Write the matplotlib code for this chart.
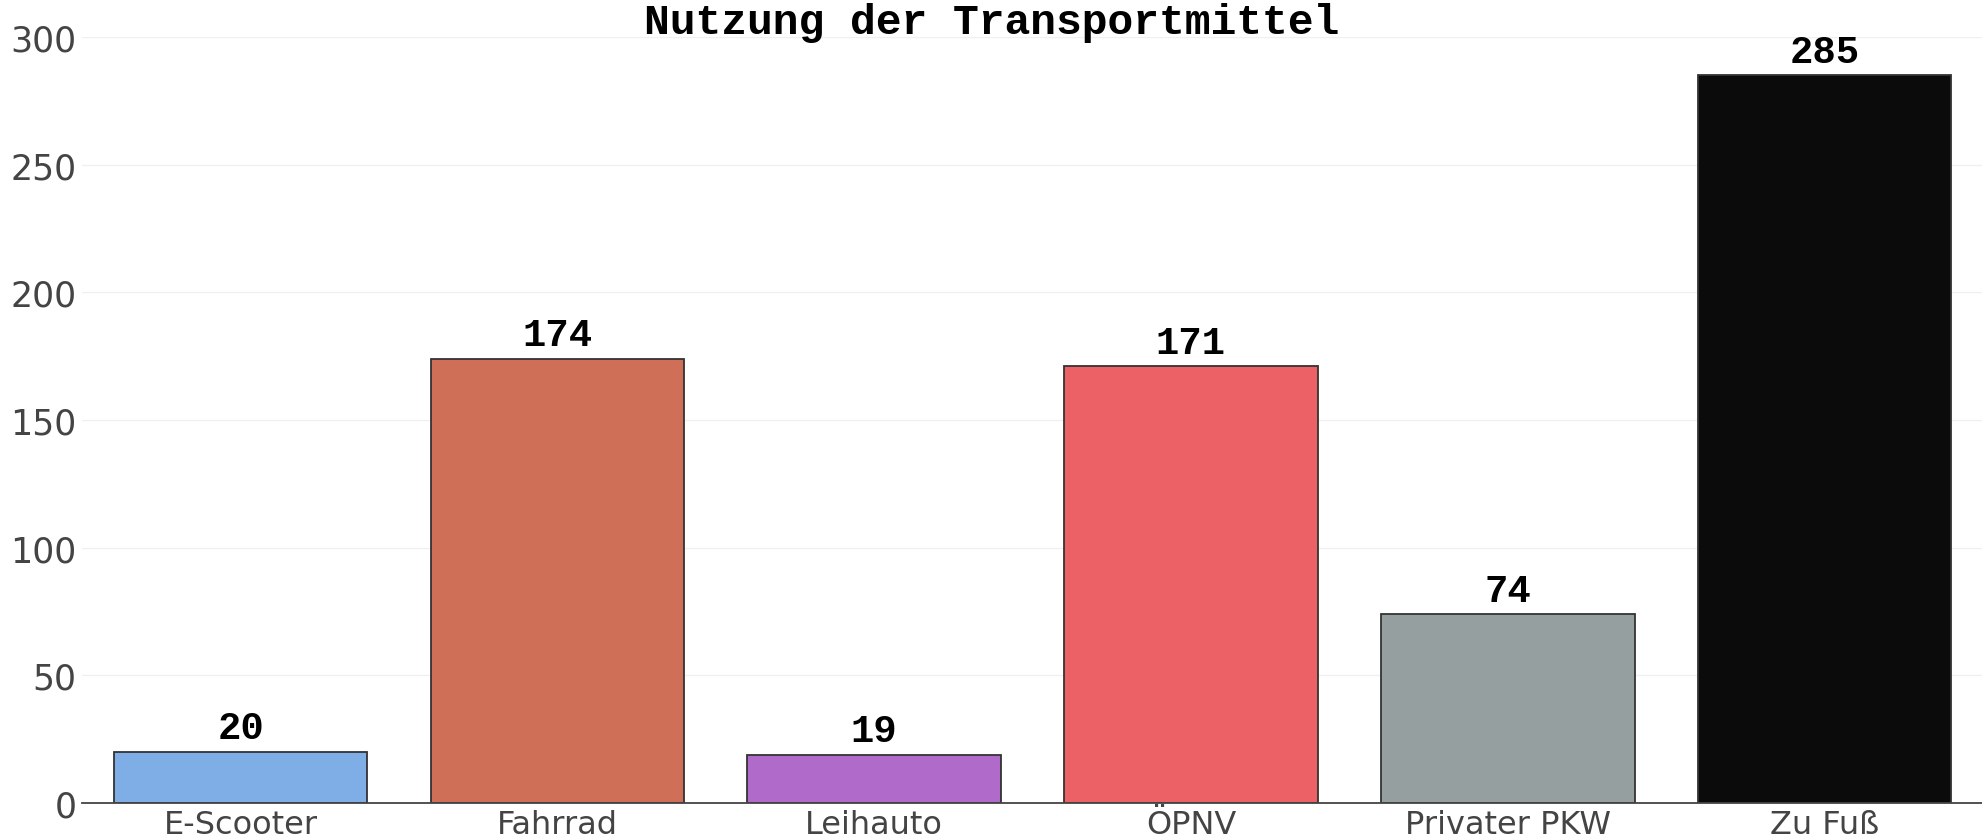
import matplotlib.pyplot as plt

categories = ['E-Scooter', 'Fahrrad', 'Leihauto', 'ÖPNV', 'Privater PKW', 'Zu Fuß']
counts = [20, 174, 19, 171, 74, 285]
bar_colors = ['#7FAEE6', '#D06F57', '#B06AC9', '#EC6166', '#969FA0', '#0B0B0B']
y_ticks = [0, 50, 100, 150, 200, 250, 300]

plt.rcParams['font.family'] = ['DejaVu Sans']

fig = plt.figure(figsize=(19.83, 8.37), dpi=100)
ax = fig.add_axes([0.0414, 0.0394, 0.9586, 0.9152])

x = range(len(categories))
ax.bar(x, counts, width=0.8, color=bar_colors, edgecolor='#333333', linewidth=1.3, zorder=3)

# Werte über den Balken
for i, v in enumerate(counts):
    ax.annotate(str(v), (i, v), xytext=(0, 4), textcoords='offset points',
                ha='center', va='bottom', fontsize=28, fontweight='bold',
                family='Liberation Mono', color='black')

ax.set_xlim(-0.5, len(categories) - 0.5)
ax.set_ylim(0, 300)
ax.set_yticks(y_ticks)
ax.set_xticks(list(x))
ax.set_xticklabels(categories)
ax.tick_params(axis='y', labelsize=25, colors='#444444', length=0, pad=4)
ax.tick_params(axis='x', labelsize=23, colors='#444444', length=0, pad=4)
ax.grid(axis='y', color='#F0F0F0', linewidth=1.0, zorder=0)

for s in ['top', 'right', 'left']:
    ax.spines[s].set_visible(False)
ax.spines['bottom'].set_color('#444444')
ax.spines['bottom'].set_linewidth(1.3)
ax.spines['bottom'].set_zorder(4)

fig.text(0.5, 0.972, 'Nutzung der Transportmittel', ha='center', va='center',
         fontsize=31, fontweight='bold', family='Liberation Mono', color='black')

fig.savefig('out.png', dpi=100)
